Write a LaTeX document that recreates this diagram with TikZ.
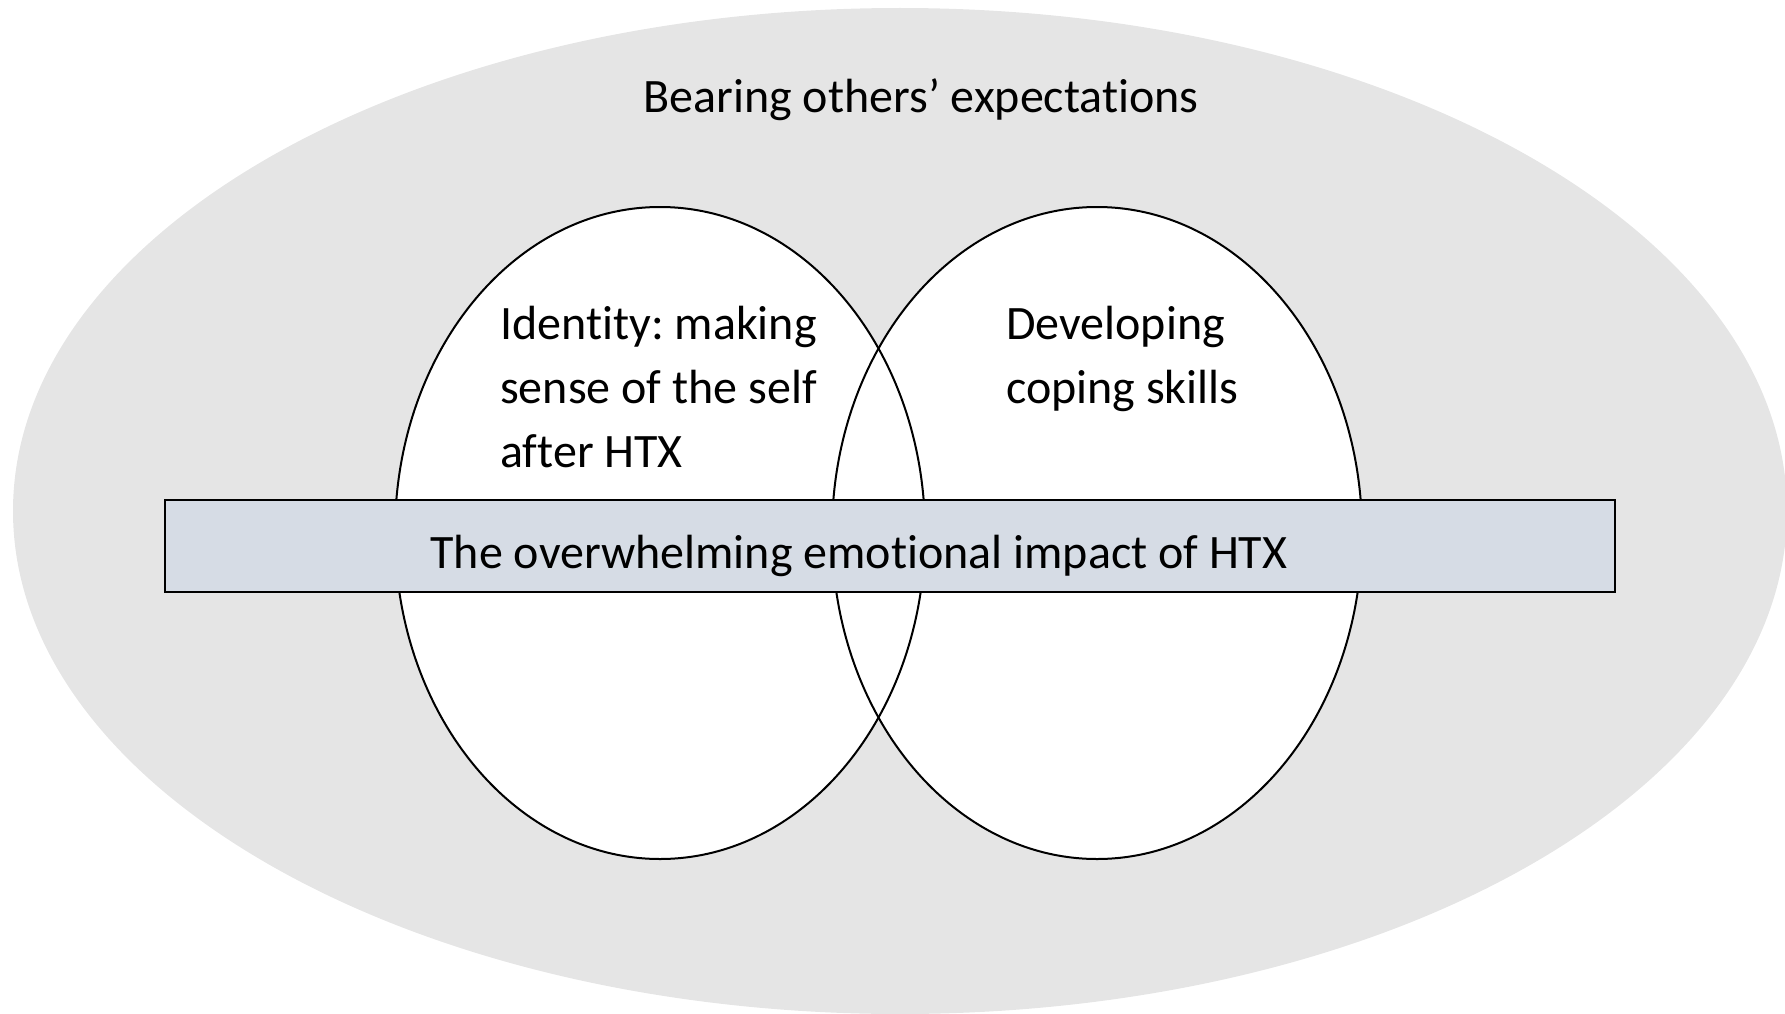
\documentclass[tikz,border=0pt]{standalone}
\usepackage{fontspec}
\setmainfont{Carlito}[Ligatures=NoCommon]
\usetikzlibrary{shapes.geometric}
\definecolor{outergray}{HTML}{E5E5E5}
\definecolor{bandblue}{HTML}{D6DCE5}
\frenchspacing
\begin{document}
\begin{tikzpicture}[x=1pt,y=-1pt,
  theme/.style={draw=black,line width=2pt},
  label/.style={inner sep=0pt,font=\fontsize{48}{64}\selectfont,align=left}]
\useasboundingbox (0,0) rectangle (1785,1014);
\clip (0,0) rectangle (1785,1014);
% surrounding context
\fill[outergray] (900,511) ellipse [x radius=887,y radius=503];
\node[label,anchor=center] (ctx) at (921,100) {Bearing others’ expectations};
% the two overlapping themes: white interiors first, then both outlines
\fill[white] (660,533) ellipse [x radius=265,y radius=326];
\fill[white] (1097,533) ellipse [x radius=265,y radius=326];
\draw[theme] (660,533) ellipse [x radius=265,y radius=326];
\draw[theme] (1097,533) ellipse [x radius=265,y radius=326];
% multi-line labels: the base anchor sits on the last line
\node[label,anchor=base west] (identity) at (500,467) {Identity: making\\sense of the self\\after HTX};
\node[label,anchor=base west] (coping) at (1006,403) {Developing\\coping skills};
% the band across both themes
\draw[draw=black,line width=2pt,fill=bandblue] (165,500) rectangle (1615,592);
\node[label,anchor=center] (impact) at (859,556) {The overwhelming emotional impact of HTX};
\end{tikzpicture}
\end{document}
